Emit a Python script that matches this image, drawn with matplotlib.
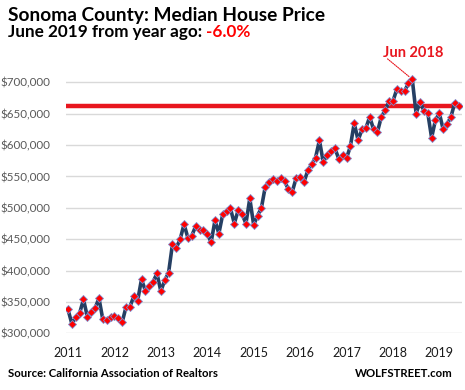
import matplotlib
matplotlib.use("Agg")
import matplotlib.pyplot as plt
from matplotlib.ticker import FuncFormatter

# Monthly median house price, Jan 2011 .. Jun 2019
prices = [
    338000, 315000, 325500, 332000, 354000, 326500, 334000, 340000, 356000, 322000, 320700, 325500,  # 2011
    327600, 324000, 317500, 342000, 342000, 359000, 352000, 386000, 368000, 375000, 382000, 395600,  # 2012
    367000, 384500, 396600, 441900, 436500, 450000, 474000, 452000, 455600, 470600, 464000, 464000,  # 2013
    459000, 445000, 480000, 459000, 489700, 494500, 499000, 475000, 496500, 489700, 475000, 515000,  # 2014
    472600, 487500, 500000, 533700, 540700, 545500, 543000, 548000, 542000, 529500, 526000, 548000,  # 2015
    549700, 540700, 559800, 569400, 580000, 607600, 572600, 585000, 591000, 595000, 578000, 584700,  # 2016
    579000, 598000, 635000, 607600, 625000, 627000, 645000, 625000, 621000, 645000, 655500, 669800,  # 2017
    669800, 689000, 686000, 686000, 698500, 705000, 650300, 669000, 655000, 651700, 611800, 640000,  # 2018
    651000, 625000, 633600, 645000, 667600, 662000,                                                  # 2019
]
year_labels = ["2011", "2012", "2013", "2014", "2015", "2016", "2017", "2018", "2019"]
y_ticks = [300000, 350000, 400000, 450000, 500000, 550000, 600000, 650000, 700000]
current_value = 662000
peak_label = "Jun 2018"
peak_index = 89
title = "Sonoma County: Median House Price"
subtitle = "June 2019 from year ago: "
change_text = "-6.0%"
source = "Source: California Association of Realtors"
brand = "WOLFSTREET.com"

W, H = 465, 390
fig = plt.figure(figsize=(W / 100, H / 100), dpi=100)
FONT = "Lato"

ax = fig.add_axes([66 / W, (H - 333.3) / H, (462 - 66) / W, (333.3 - 65) / H])
x = list(range(len(prices)))
ax.set_xlim(-0.52, 101.86)
ax.set_ylim(300000, 727700)

ax.axhline(current_value, color="#e8161e", lw=3.2, zorder=2)
ax.plot(x, prices, color="#253f63", lw=2.6, zorder=3,
        marker="D", markersize=4.2, markerfacecolor="#ff0000",
        markeredgecolor="#7f8fd0", markeredgewidth=0.6)

ax.set_yticks(y_ticks)
ax.yaxis.set_major_formatter(FuncFormatter(lambda v, p: "${:,.0f}".format(v)))
ax.set_xticks([12 * i for i in range(len(year_labels))])
ax.set_xticklabels(year_labels)
ax.grid(axis="y", color="#d9d9d9", lw=1)
ax.set_axisbelow(True)
for s in ax.spines.values():
    s.set_visible(False)
ax.tick_params(axis="both", length=0)
ax.tick_params(axis="y", pad=11, labelsize=8.4, labelcolor="#595959")
ax.tick_params(axis="x", pad=10, labelsize=9, labelcolor="#1a1a1a")
for lab in ax.get_xticklabels() + ax.get_yticklabels():
    lab.set_fontfamily(FONT)

# peak annotation
ax.annotate("", xy=(peak_index, prices[peak_index]), xytext=(82.6, 737500),
            arrowprops=dict(arrowstyle="-", color="#e8161e", linestyle=(0, (1, 1)), lw=0.8,
                        shrinkA=0, shrinkB=3),
            annotation_clip=False)
ax.text(peak_index + 0.3, 740000, peak_label, color="#e8161e", fontsize=10.5,
        fontweight="bold", ha="center", va="baseline", family=FONT, clip_on=False)

# titles
fig.text(8 / W, 1 - 20.7 / H, title, fontsize=13.8, fontweight="bold", family=FONT,
         va="baseline", ha="left", color="black")
t = fig.text(8 / W, 1 - 37 / H, subtitle, fontsize=12.3, fontweight="bold", family=FONT,
             va="baseline", ha="left", color="black")
fig.canvas.draw()
bb = t.get_window_extent()
fig.text(bb.x1 / W, 1 - 37 / H, change_text, fontsize=12.3, fontweight="bold", family=FONT,
         va="baseline", ha="left", color="#ff0000")

fig.text(8 / W, 1 - 376.7 / H, source, fontsize=8.2, fontweight="bold", family=FONT,
         va="baseline", ha="left", color="black")
fig.text(453 / W, 1 - 376.7 / H, brand, fontsize=8.2, fontweight="bold", family=FONT,
         va="baseline", ha="right", color="black")

fig.savefig("out.png", dpi=100)
